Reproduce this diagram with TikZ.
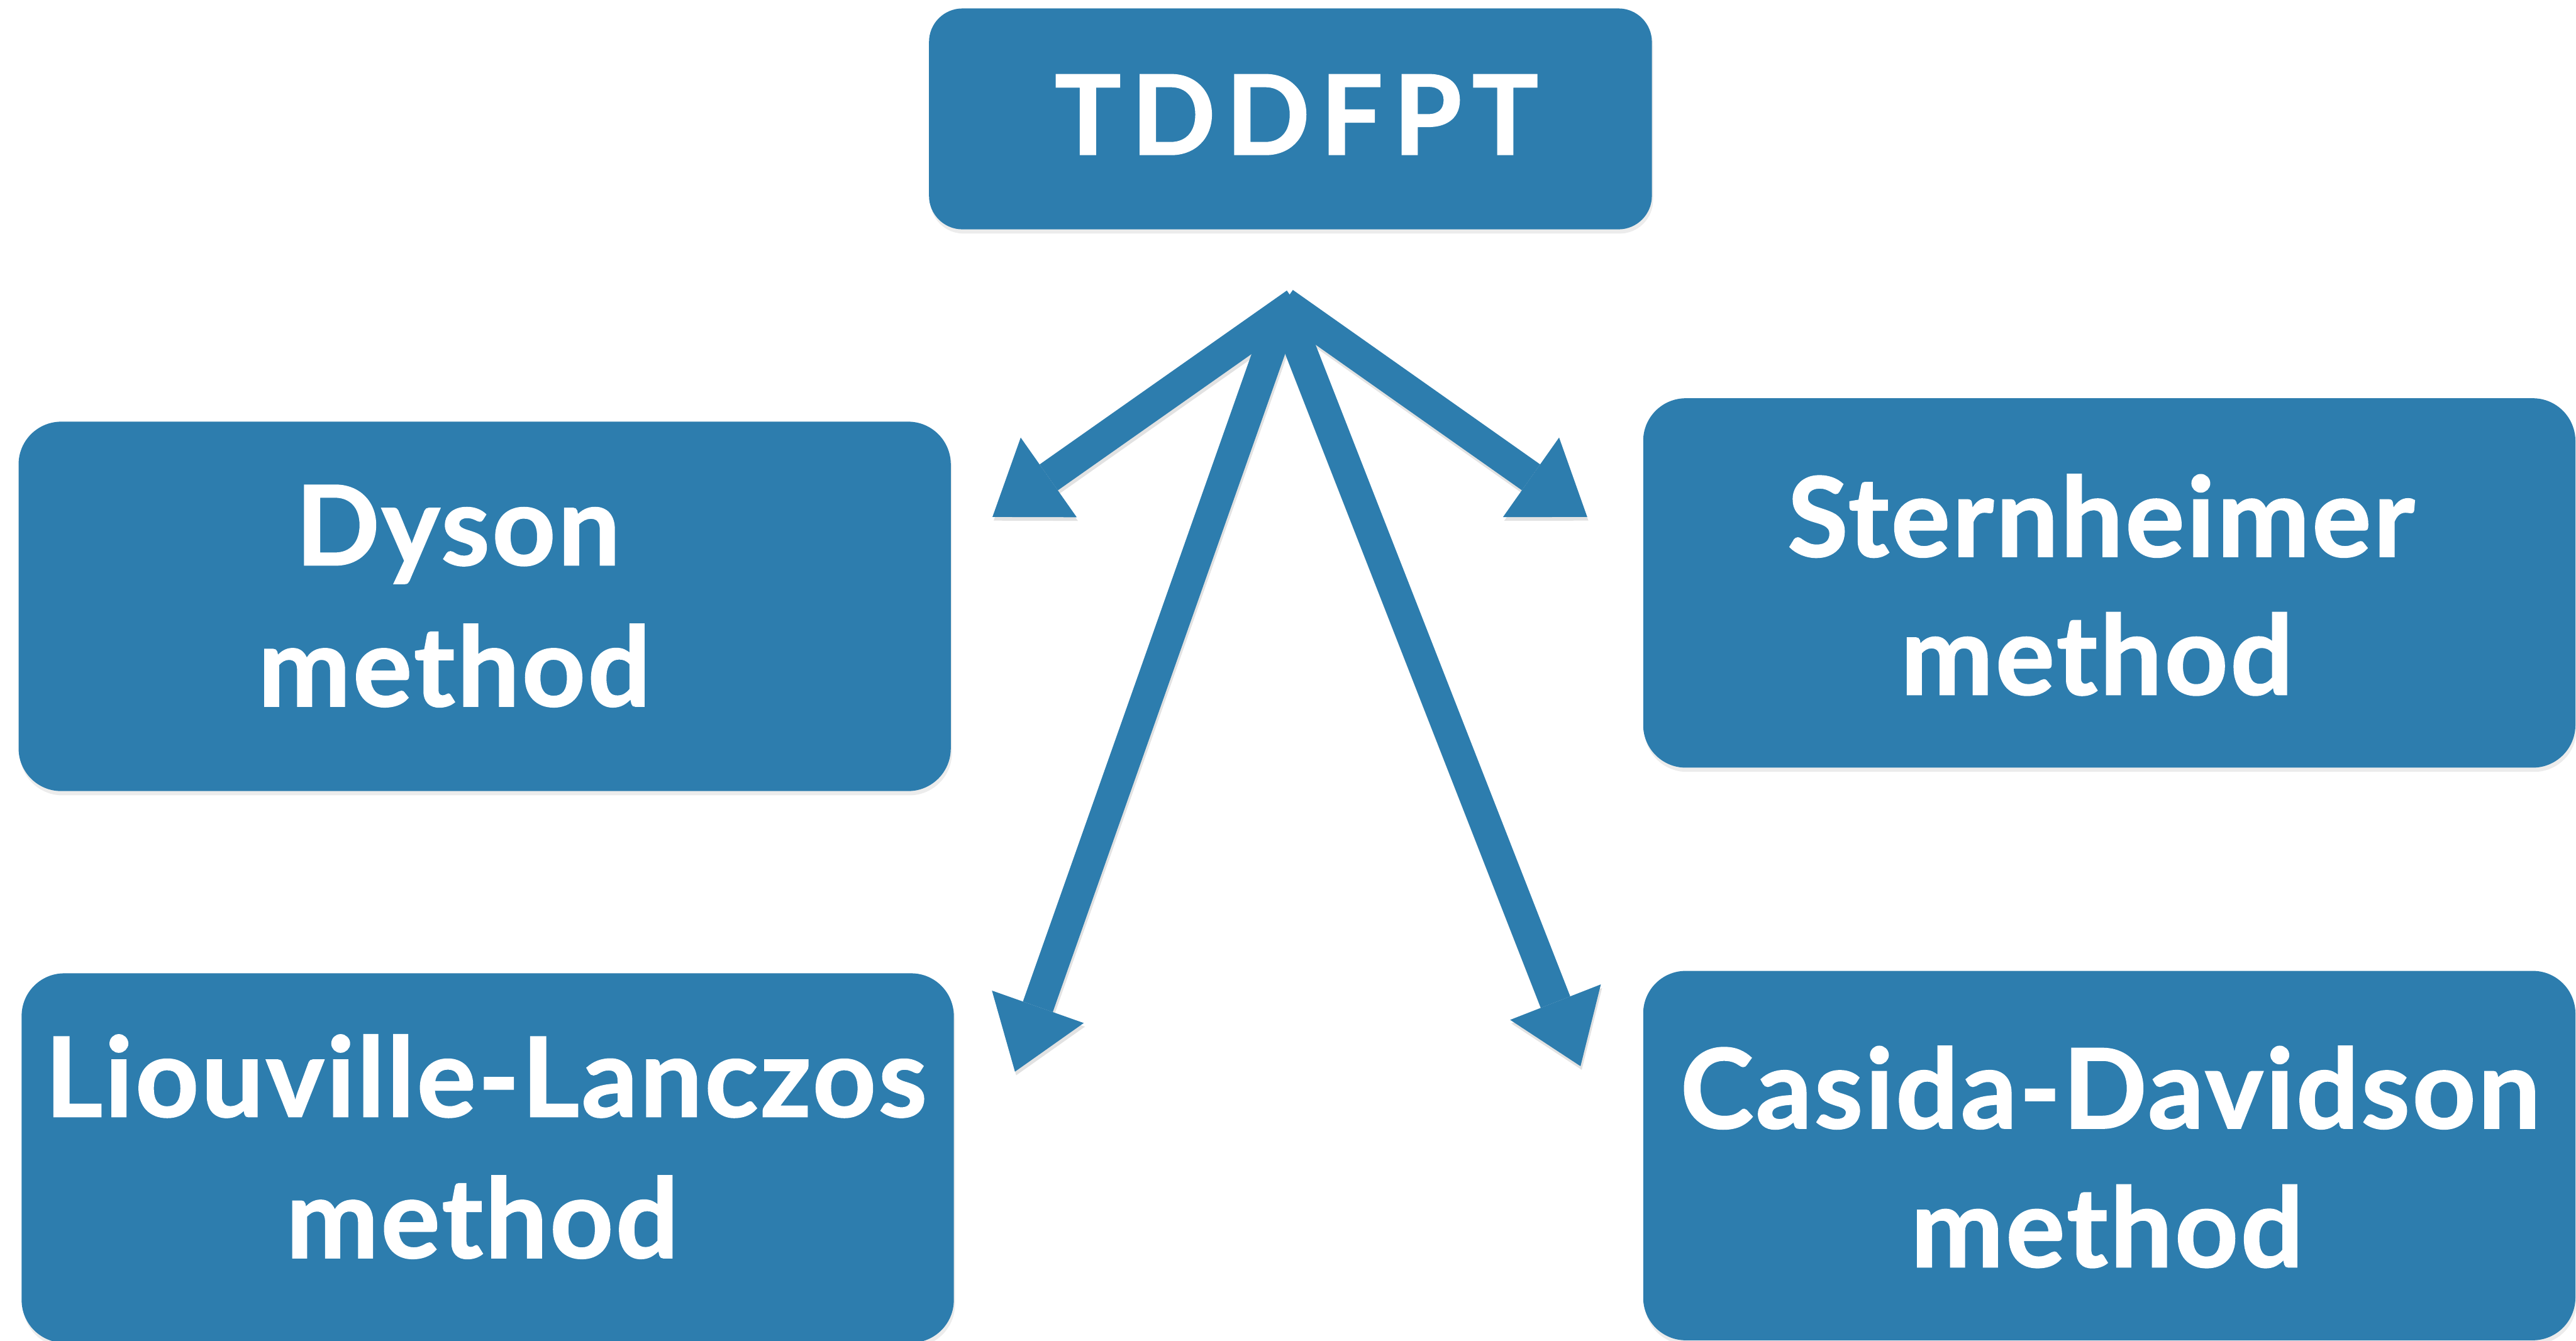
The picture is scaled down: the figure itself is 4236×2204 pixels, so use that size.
\documentclass[tikz,border=0pt]{standalone}
\usepackage{fontspec}
\setmainfont{Lato}
\usetikzlibrary{arrows.meta,shadows}
\definecolor{boxblue}{RGB}{45,125,174}
\definecolor{shade}{RGB}{226,226,226}
\begin{document}
\begin{tikzpicture}[x=0.01cm,y=-0.01cm,
  card/.style={fill=boxblue, draw=none, rounded corners=0.7cm, inner sep=0pt,
    minimum width=15.32cm, minimum height=6.07cm,
    drop shadow={shadow xshift=0.02cm, shadow yshift=-0.07cm, opacity=0.15}},
  lbl/.style={anchor=base, text=white, inner sep=0pt,
    font=\fontsize{51.6}{60}\selectfont\bfseries\addfontfeatures{FakeBold=1.3,LetterSpace=2.2}},
  widelbl/.style={lbl,
    font=\fontsize{51.6}{60}\selectfont\bfseries\addfontfeatures{FakeBold=1.3,LetterSpace=9.5}},
  flow/.style={draw=boxblue, line width=0.52cm,
    -{Triangle[length=1.13cm,width=1.6cm,line width=0pt]}},
  flowshadow/.style={flow, draw=shade, fill=shade,
    transform canvas={xshift=0.02cm,yshift=-0.06cm}},
  ]
\useasboundingbox (0,0) rectangle (4236,2204);

% boxes
\node[card, minimum width=11.88cm, minimum height=3.63cm, rounded corners=0.55cm] (top) at (2122,195.5) {};
\node[card] (dyson) at (797,997) {};
\node[card] (stern) at (3468.5,958.5) {};
\node[card] (liou) at (802,1904) {};
\node[card] (casida) at (3468.5,1900) {};

% labels
\node[widelbl] (topT) at (2132,254) {TDDFPT};
\node[lbl] (dy1) at (753,929) {Dyson};
\node[lbl] (dy2) at (747,1161) {method};
\node[lbl] (st1) at (3455,915) {Sternheimer};
\node[lbl] (st2) at (3448,1142) {method};
\node[lbl] (li1) at (799,1836) {Liouville-Lanczos};
\node[lbl] (li2) at (793,2068) {method};
\node[lbl] (ca1) at (3470,1855) {Casida-Davidson};
\node[lbl] (ca2) at (3465,2083) {method};

% arrow ends
\coordinate (s1) at (2131,499); \coordinate (t1) at (1632,850);
\coordinate (s2) at (2111,498); \coordinate (t2) at (2610,850);
\coordinate (s3) at (2104,530); \coordinate (t3) at (1669,1762);
\coordinate (s4) at (2121,530); \coordinate (t4) at (2599,1753);

% shadows
\draw[flowshadow] (s3) -- (t3);
\draw[flowshadow] (s4) -- (t4);
\draw[flowshadow] (s1) -- (t1);
\draw[flowshadow] (s2) -- (t2);
% arrows
\draw[flow] (s3) -- (t3);
\draw[flow] (s4) -- (t4);
\draw[flow] (s1) -- (t1);
\draw[flow] (s2) -- (t2);
\end{tikzpicture}
\end{document}
